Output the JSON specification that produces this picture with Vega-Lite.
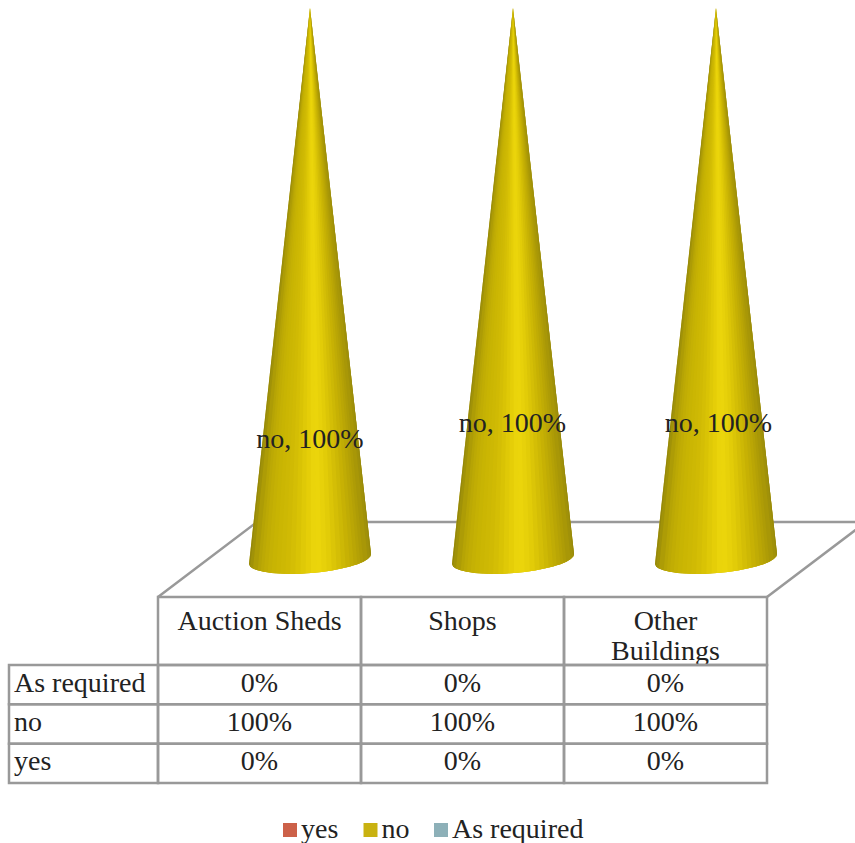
{
  "$schema": "https://vega.github.io/schema/vega-lite/v6.json",
  "width": 855,
  "height": 843,
  "padding": 0,
  "autosize": {"type": "none"},
  "background": "#ffffff",
  "config": {
    "view": {"stroke": null},
    "text": {"font": "Liberation Serif", "fontSize": 28, "color": "#222222"}
  },
  "data": {
    "values": [
      {"building": "Auction Sheds", "response": "yes", "value": 0},
      {"building": "Auction Sheds", "response": "no", "value": 100},
      {"building": "Auction Sheds", "response": "As required", "value": 0},
      {"building": "Shops", "response": "yes", "value": 0},
      {"building": "Shops", "response": "no", "value": 100},
      {"building": "Shops", "response": "As required", "value": 0},
      {"building": "Other Buildings", "response": "yes", "value": 0},
      {"building": "Other Buildings", "response": "no", "value": 100},
      {"building": "Other Buildings", "response": "As required", "value": 0}
    ]
  },
  "transform": [
    {"calculate": "datum.value + '%'", "as": "pct"},
    {"calculate": "datum.response + ', ' + datum.value + '%'", "as": "tag"},
    {"calculate": "replace(datum.building, 'Other ', 'Other\\n')", "as": "head"}
  ],
  "resolve": {"scale": {"x": "independent", "y": "independent", "color": "independent", "size": "independent"}},
  "layer": [
    {
      "transform": [{"filter": "datum.building === 'Auction Sheds' && datum.response === 'no'"}],
      "mark": {"type": "point", "shape": "M0,0L99,-75L708,-75L609,0", "filled": false, "stroke": "#999999", "strokeWidth": 2.5, "opacity": 1, "size": 4},
      "encoding": {
        "x": {"field": "building", "type": "nominal", "bandPosition": 0, "axis": null, "scale": {"type": "band", "domain": ["Auction Sheds", "Shops", "Other Buildings"], "range": [158, 767], "padding": 0}},
        "y": {"datum": "header", "type": "nominal", "bandPosition": 0, "axis": null, "scale": {"type": "band", "domain": ["header"], "range": [597, 665], "padding": 0}}
      }
    },
    {
      "encoding": {
        "x": {"field": "building", "type": "nominal", "axis": null, "scale": {"type": "band", "domain": ["Auction Sheds", "Shops", "Other Buildings"], "range": [158, 767], "padding": 0}},
        "y": {"field": "value", "type": "quantitative", "axis": null, "scale": {"domain": [0, 100], "range": [560, 8]}},
        "size": {"field": "value", "type": "quantitative", "legend": null, "scale": {"domain": [0, 100], "range": [0, 4]}}
      },
      "layer": [
        {
          "mark": {"type": "point", "xOffset": 50.5, "filled": true, "opacity": 1, "strokeWidth": 0, "shape": "M0,0L-61,556L-59.9,558.4L-57,560.5L-52.3,562.3L-46.1,563.8L-38.4,564.9L-29.6,565.6L-19.9,565.9L-9.6,565.7L1,565L11.6,563.9L21.8,562.5L31.4,560.6L40,558.5L47.4,556.2L53.3,553.7L57.7,551.1L60.2,548.5L61,546Z"},
          "encoding": {
            "color": {
              "field": "response", "type": "nominal",
              "scale": {"domain": ["yes", "no", "As required"], "range": ["#cc6149", "#c9b211", "#8db0b8"]},
              "legend": {"title": null, "orient": "none", "direction": "horizontal", "columns": 3, "legendX": 276, "legendY": 816, "symbolType": "square", "symbolSize": 196, "labelFont": "Liberation Serif", "labelFontSize": 28, "labelColor": "#222222", "labelOffset": -3, "columnPadding": 17.5, "labelLimit": 300}
            }
          }
        },
        {"mark": {"type": "point", "xOffset": 50.5, "filled": true, "opacity": 1, "strokeWidth": 0, "fill": "#93860c", "shape": "M0,0L-61,556L-59.9,558.4L-57,560.5Z"}},
        {"mark": {"type": "point", "xOffset": 50.5, "filled": true, "opacity": 1, "strokeWidth": 0, "fill": "#a09208", "shape": "M0,0L-59.9,558.4L-57,560.5L-52.3,562.3Z"}},
        {"mark": {"type": "point", "xOffset": 50.5, "filled": true, "opacity": 1, "strokeWidth": 0, "fill": "#ad9c06", "shape": "M0,0L-57,560.5L-52.3,562.3L-49.2,563.05Z"}},
        {"mark": {"type": "point", "xOffset": 50.5, "filled": true, "opacity": 1, "strokeWidth": 0, "fill": "#b6a405", "shape": "M0,0L-52.3,562.3L-49.2,563.05L-46.1,563.8Z"}},
        {"mark": {"type": "point", "xOffset": 50.5, "filled": true, "opacity": 1, "strokeWidth": 0, "fill": "#bca905", "shape": "M0,0L-49.2,563.05L-46.1,563.8L-42.25,564.35Z"}},
        {"mark": {"type": "point", "xOffset": 50.5, "filled": true, "opacity": 1, "strokeWidth": 0, "fill": "#c1ad04", "shape": "M0,0L-46.1,563.8L-42.25,564.35L-38.4,564.9Z"}},
        {"mark": {"type": "point", "xOffset": 50.5, "filled": true, "opacity": 1, "strokeWidth": 0, "fill": "#c5b104", "shape": "M0,0L-42.25,564.35L-38.4,564.9L-34,565.25Z"}},
        {"mark": {"type": "point", "xOffset": 50.5, "filled": true, "opacity": 1, "strokeWidth": 0, "fill": "#c8b403", "shape": "M0,0L-38.4,564.9L-34,565.25L-29.6,565.6Z"}},
        {"mark": {"type": "point", "xOffset": 50.5, "filled": true, "opacity": 1, "strokeWidth": 0, "fill": "#cbb603", "shape": "M0,0L-34,565.25L-29.6,565.6L-24.75,565.75Z"}},
        {"mark": {"type": "point", "xOffset": 50.5, "filled": true, "opacity": 1, "strokeWidth": 0, "fill": "#cdb804", "shape": "M0,0L-29.6,565.6L-24.75,565.75L-19.9,565.9Z"}},
        {"mark": {"type": "point", "xOffset": 50.5, "filled": true, "opacity": 1, "strokeWidth": 0, "fill": "#d0ba04", "shape": "M0,0L-24.75,565.75L-19.9,565.9L-14.75,565.8Z"}},
        {"mark": {"type": "point", "xOffset": 50.5, "filled": true, "opacity": 1, "strokeWidth": 0, "fill": "#d4be05", "shape": "M0,0L-19.9,565.9L-14.75,565.8L-9.6,565.7Z"}},
        {"mark": {"type": "point", "xOffset": 50.5, "filled": true, "opacity": 1, "strokeWidth": 0, "fill": "#d9c305", "shape": "M0,0L-14.75,565.8L-9.6,565.7L-4.3,565.35Z"}},
        {"mark": {"type": "point", "xOffset": 50.5, "filled": true, "opacity": 1, "strokeWidth": 0, "fill": "#dfc907", "shape": "M0,0L-9.6,565.7L-4.3,565.35L1,565Z"}},
        {"mark": {"type": "point", "xOffset": 50.5, "filled": true, "opacity": 1, "strokeWidth": 0, "fill": "#e5ce08", "shape": "M0,0L-4.3,565.35L1,565L6.3,564.45Z"}},
        {"mark": {"type": "point", "xOffset": 50.5, "filled": true, "opacity": 1, "strokeWidth": 0, "fill": "#ead40b", "shape": "M0,0L1,565L6.3,564.45L11.6,563.9Z"}},
        {"mark": {"type": "point", "xOffset": 50.5, "filled": true, "opacity": 1, "strokeWidth": 0, "fill": "#ebd50b", "shape": "M0,0L6.3,564.45L11.6,563.9L16.7,563.2Z"}},
        {"mark": {"type": "point", "xOffset": 50.5, "filled": true, "opacity": 1, "strokeWidth": 0, "fill": "#e7d10a", "shape": "M0,0L11.6,563.9L16.7,563.2L21.8,562.5Z"}},
        {"mark": {"type": "point", "xOffset": 50.5, "filled": true, "opacity": 1, "strokeWidth": 0, "fill": "#e2cc08", "shape": "M0,0L16.7,563.2L21.8,562.5L26.6,561.55Z"}},
        {"mark": {"type": "point", "xOffset": 50.5, "filled": true, "opacity": 1, "strokeWidth": 0, "fill": "#dbc507", "shape": "M0,0L21.8,562.5L26.6,561.55L31.4,560.6Z"}},
        {"mark": {"type": "point", "xOffset": 50.5, "filled": true, "opacity": 1, "strokeWidth": 0, "fill": "#d4be06", "shape": "M0,0L26.6,561.55L31.4,560.6L35.7,559.55Z"}},
        {"mark": {"type": "point", "xOffset": 50.5, "filled": true, "opacity": 1, "strokeWidth": 0, "fill": "#cdb805", "shape": "M0,0L31.4,560.6L35.7,559.55L40,558.5Z"}},
        {"mark": {"type": "point", "xOffset": 50.5, "filled": true, "opacity": 1, "strokeWidth": 0, "fill": "#c7b104", "shape": "M0,0L35.7,559.55L40,558.5L43.7,557.35Z"}},
        {"mark": {"type": "point", "xOffset": 50.5, "filled": true, "opacity": 1, "strokeWidth": 0, "fill": "#c0ac05", "shape": "M0,0L40,558.5L43.7,557.35L47.4,556.2Z"}},
        {"mark": {"type": "point", "xOffset": 50.5, "filled": true, "opacity": 1, "strokeWidth": 0, "fill": "#baa605", "shape": "M0,0L43.7,557.35L47.4,556.2L50.35,554.95Z"}},
        {"mark": {"type": "point", "xOffset": 50.5, "filled": true, "opacity": 1, "strokeWidth": 0, "fill": "#b4a106", "shape": "M0,0L47.4,556.2L50.35,554.95L53.3,553.7Z"}},
        {"mark": {"type": "point", "xOffset": 50.5, "filled": true, "opacity": 1, "strokeWidth": 0, "fill": "#ae9c06", "shape": "M0,0L50.35,554.95L53.3,553.7L57.7,551.1Z"}},
        {"mark": {"type": "point", "xOffset": 50.5, "filled": true, "opacity": 1, "strokeWidth": 0, "fill": "#a89707", "shape": "M0,0L53.3,553.7L57.7,551.1L60.2,548.5Z"}},
        {"mark": {"type": "point", "xOffset": 50.5, "filled": true, "opacity": 1, "strokeWidth": 0, "fill": "#a09109", "shape": "M0,0L57.7,551.1L60.2,548.5L61,546Z"}},
        {"mark": {"type": "point", "xOffset": 50.5, "filled": true, "opacity": 1, "strokeWidth": 0, "fill": "#96890c", "shape": "M0,0L60.2,548.5L61,546Z"}}
      ]
    },
    {
      "transform": [{"filter": "datum.response === 'no' && datum.building === 'Auction Sheds'"}],
      "mark": {"type": "text", "baseline": "alphabetic", "xOffset": 50.5, "dy": 440},
      "encoding": {
        "x": {"field": "building", "type": "nominal", "axis": null, "scale": {"type": "band", "domain": ["Auction Sheds", "Shops", "Other Buildings"], "range": [158, 767], "padding": 0}},
        "y": {"field": "value", "type": "quantitative", "axis": null, "scale": {"domain": [0, 100], "range": [560, 8]}},
        "text": {"field": "tag"}
      }
    },
    {
      "transform": [{"filter": "datum.response === 'no' && datum.building === 'Shops'"}],
      "mark": {"type": "text", "baseline": "alphabetic", "xOffset": 50, "dy": 424},
      "encoding": {
        "x": {"field": "building", "type": "nominal", "axis": null, "scale": {"type": "band", "domain": ["Auction Sheds", "Shops", "Other Buildings"], "range": [158, 767], "padding": 0}},
        "y": {"field": "value", "type": "quantitative", "axis": null, "scale": {"domain": [0, 100], "range": [560, 8]}},
        "text": {"field": "tag"}
      }
    },
    {
      "transform": [{"filter": "datum.response === 'no' && datum.building === 'Other Buildings'"}],
      "mark": {"type": "text", "baseline": "alphabetic", "xOffset": 53, "dy": 424},
      "encoding": {
        "x": {"field": "building", "type": "nominal", "axis": null, "scale": {"type": "band", "domain": ["Auction Sheds", "Shops", "Other Buildings"], "range": [158, 767], "padding": 0}},
        "y": {"field": "value", "type": "quantitative", "axis": null, "scale": {"domain": [0, 100], "range": [560, 8]}},
        "text": {"field": "tag"}
      }
    },
    {
      "transform": [{"filter": "datum.response === 'no'"}],
      "mark": {"type": "text", "baseline": "alphabetic", "dy": -1, "lineBreak": "\n", "lineHeight": 30},
      "encoding": {
        "x": {"field": "building", "type": "nominal", "axis": null, "scale": {"type": "band", "domain": ["Auction Sheds", "Shops", "Other Buildings"], "range": [158, 767], "padding": 0}},
        "y": {"datum": "header", "type": "nominal", "axis": null, "scale": {"type": "band", "domain": ["header"], "range": [597, 665], "padding": 0}},
        "text": {"field": "head"}
      }
    },
    {
      "transform": [{"filter": "datum.response === 'no'"}],
      "mark": {"type": "rect", "fill": null, "fillOpacity": 0, "stroke": "#999999", "strokeWidth": 2.5},
      "encoding": {
        "x": {"field": "building", "type": "nominal", "axis": null, "scale": {"type": "band", "domain": ["Auction Sheds", "Shops", "Other Buildings"], "range": [158, 767], "padding": 0}},
        "y": {"datum": "header", "type": "nominal", "axis": null, "scale": {"type": "band", "domain": ["header"], "range": [597, 665], "padding": 0}}
      }
    },
    {
      "mark": {"type": "rect", "fill": null, "fillOpacity": 0, "stroke": "#999999", "strokeWidth": 2.5},
      "encoding": {
        "x": {"field": "building", "type": "nominal", "axis": null, "scale": {"type": "band", "domain": ["Auction Sheds", "Shops", "Other Buildings"], "range": [158, 767], "padding": 0}},
        "y": {"field": "response", "type": "nominal", "axis": null, "scale": {"type": "band", "domain": ["As required", "no", "yes"], "range": [665, 783], "padding": 0}}
      }
    },
    {
      "transform": [{"filter": "datum.building === 'Auction Sheds'"}],
      "mark": {"type": "rect", "fill": null, "fillOpacity": 0, "stroke": "#999999", "strokeWidth": 2.5},
      "encoding": {
        "x": {"datum": "row label", "type": "nominal", "axis": null, "scale": {"type": "band", "domain": ["row label"], "range": [9, 158], "padding": 0}},
        "y": {"field": "response", "type": "nominal", "axis": null, "scale": {"type": "band", "domain": ["As required", "no", "yes"], "range": [665, 783], "padding": 0}}
      }
    },
    {
      "transform": [{"filter": "datum.building === 'Auction Sheds'"}],
      "mark": {"type": "text", "align": "left", "baseline": "alphabetic", "dx": 5, "dy": 7},
      "encoding": {
        "x": {"datum": "row label", "type": "nominal", "bandPosition": 0, "axis": null, "scale": {"type": "band", "domain": ["row label"], "range": [9, 158], "padding": 0}},
        "y": {"field": "response", "type": "nominal", "axis": null, "scale": {"type": "band", "domain": ["As required", "no", "yes"], "range": [665, 783], "padding": 0}},
        "text": {"field": "response"}
      }
    },
    {
      "mark": {"type": "text", "baseline": "alphabetic", "dy": 7},
      "encoding": {
        "x": {"field": "building", "type": "nominal", "axis": null, "scale": {"type": "band", "domain": ["Auction Sheds", "Shops", "Other Buildings"], "range": [158, 767], "padding": 0}},
        "y": {"field": "response", "type": "nominal", "axis": null, "scale": {"type": "band", "domain": ["As required", "no", "yes"], "range": [665, 783], "padding": 0}},
        "text": {"field": "pct"}
      }
    }
  ]
}
